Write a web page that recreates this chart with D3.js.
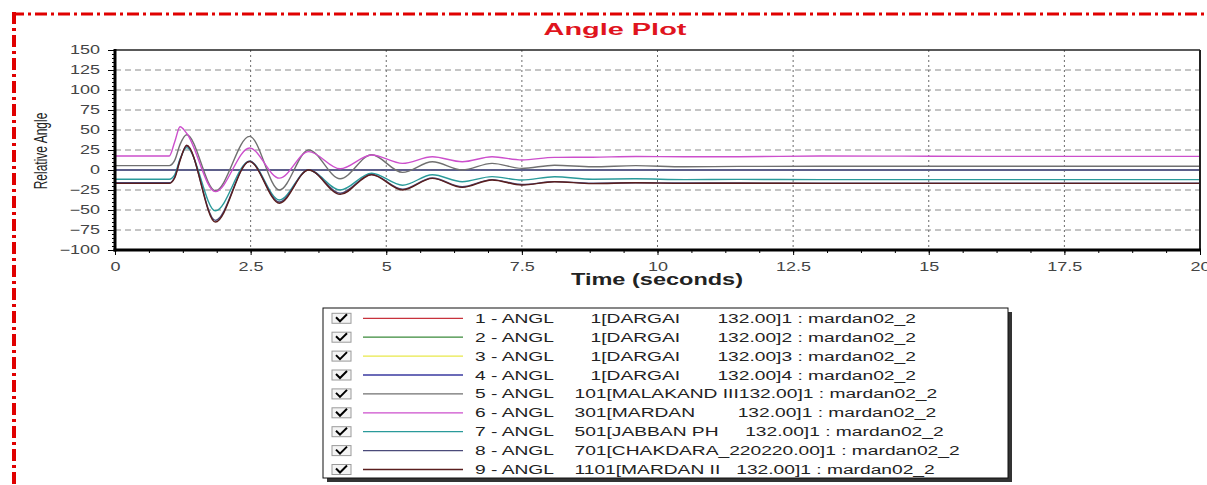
<!DOCTYPE html>
<html>
<head>
<meta charset="utf-8">
<script src="https://cdn.jsdelivr.net/npm/d3@7"></script>
<style>
    body { margin: 0; background: #fff; }
    .angle-plot-svg text { font-family: Arial, "Liberation Sans", sans-serif; }
    .axis path { display: none; }
    .axis line { stroke: #000; }
    .legend-text { white-space: pre; }
</style>
</head>
<body>
<div class="angle-plot"></div>
<script>
'use strict';

// sample times (seconds), shared by every channel
var time = [0, 1.0, 1.1, 1.2, 1.32, 1.85, 2.48, 3.03, 3.57, 4.15, 4.73, 5.3, 5.85, 6.4, 6.95, 7.5, 8.1, 8.8, 9.6, 10.5, 11.5, 13, 14.5, 16, 18, 20];

// relative angle (deg) per channel
var dargai1 = [0, 0, 0, 0, 0, 0, 0, 0, 0, 0, 0, 0, 0, 0, 0, 0, 0, 0, 0, 0, 0, 0, 0, 0, 0, 0];
var dargai2 = [0, 0, 0, 0, 0, 0, 0, 0, 0, 0, 0, 0, 0, 0, 0, 0, 0, 0, 0, 0, 0, 0, 0, 0, 0, 0];
var dargai3 = [0, 0, 0, 0, 0, 0, 0, 0, 0, 0, 0, 0, 0, 0, 0, 0, 0, 0, 0, 0, 0, 0, 0, 0, 0, 0];
var dargai4 = [0, 0, 0, 0, 0, 0, 0, 0, 0, 0, 0, 0, 0, 0, 0, 0, 0, 0, 0, 0, 0, 0, 0, 0, 0, 0];
var malakand = [5.5, 5.5, 12, 32, 44, -26, 42, -25, 25, -11, 19, -3, 10.4, 0, 8.3, 2, 6, 4, 5.5, 4, 4.5, 4.6, 4.6, 4.6, 4.6, 4.6];
var mardan = [17.5, 17.5, 35, 54, 46, -27, 27.5, -10.2, 23, 1.5, 18.8, 8.3, 16.6, 10.4, 16.6, 12.5, 15.8, 16, 16.8, 16.6, 16.6, 17.5, 17.3, 17, 17, 17];
var jabban = [-11.5, -11.5, -6, 14, 28, -51, 11, -37.5, 0, -25, -4, -19, -6, -14.6, -8.3, -12.5, -8.5, -11.5, -11, -12, -11.7, -12, -12, -12, -12, -12];
var chakdara = [-16, -16, -9, 13, 30, -63, 11, -40, 0.5, -29, -5.5, -24, -10, -21, -12, -18.2, -14.5, -16.5, -16, -16.3, -16.3, -16.5, -16.5, -16.5, -16.5, -16.5];
var mardan2 = [-16.7, -16.7, -10, 12, 31, -65, 10.5, -41.5, 0, -30.5, -6, -25, -10.5, -21.7, -12.5, -18.8, -14.6, -17, -16, -16.7, -16.5, -16.7, -16.7, -16.7, -16.7, -16.7];

var legendLabels = [
    "1 - ANGL       1[DARGAI       132.00]1 : mardan02_2",
    "2 - ANGL       1[DARGAI       132.00]2 : mardan02_2",
    "3 - ANGL       1[DARGAI       132.00]3 : mardan02_2",
    "4 - ANGL       1[DARGAI       132.00]4 : mardan02_2",
    "5 - ANGL    101[MALAKAND III132.00]1 : mardan02_2",
    "6 - ANGL    301[MARDAN        132.00]1 : mardan02_2",
    "7 - ANGL    501[JABBAN PH     132.00]1 : mardan02_2",
    "8 - ANGL    701[CHAKDARA_220220.00]1 : mardan02_2",
    "9 - ANGL    1101[MARDAN II   132.00]1 : mardan02_2"
];

var xTicks = [0, 2.5, 5, 7.5, 10, 12.5, 15, 17.5, 20];
var yTicks = [-100, -75, -50, -25, 0, 25, 50, 75, 100, 125, 150];

var seriesColors = ["#c8323c", "#3a8a3a", "#e8e84a", "#3a3aa0", "#707070", "#cc4fcc", "#2a9a9a", "#4a4a7a", "#5a1e1e"];

class AnglePlot {
    constructor(containerElement) {
        this.width = 1207;
        this.height = 485;
        this.plot = {left: 115, top: 50, right: 1200, bottom: 250};
        this.sx = 1.5; // the picture is stretched horizontally

        this.x = d3.scaleLinear().domain([0, 20]).range([this.plot.left, this.plot.right]);
        this.y = d3.scaleLinear().domain([-100, 150]).range([this.plot.bottom, this.plot.top]);

        this.line = d3.line()
            .curve(d3.curveMonotoneX)
            .x(function(d) { return this.x(d.t); }.bind(this))
            .y(function(d) { return this.y(d.v); }.bind(this));

        this.svg = d3.select(containerElement)
            .append("svg")
            .attr("class", "angle-plot-svg")
            .attr("width", this.width)
            .attr("height", this.height);
    }

    stretchText(sel, x, y, sx) {
        return sel.attr("transform", "translate(" + x + "," + y + ") scale(" + sx + ",1)");
    }

    setup() {
        var p = this.plot, svg = this.svg, self = this;
        var channels = [dargai1, dargai2, dargai3, dargai4, malakand, mardan, jabban, chakdara, mardan2];

        // red dash-dot frame
        svg.append("line")
            .attr("x1", 12).attr("y1", 14).attr("x2", this.width).attr("y2", 14)
            .attr("stroke", "#e00000").attr("stroke-width", 3)
            .attr("stroke-dasharray", "12,4,3,4");
        svg.append("line")
            .attr("x1", 14).attr("y1", 12).attr("x2", 14).attr("y2", this.height)
            .attr("stroke", "#e00000").attr("stroke-width", 4)
            .attr("stroke-dasharray", "12,4,3,4");

        this.stretchText(svg.append("text"), 615, 35, 1.7)
            .attr("text-anchor", "middle")
            .attr("font-size", 17)
            .attr("font-weight", "bold")
            .attr("fill", "#e0141e")
            .text("Angle Plot");

        // grid
        svg.append("g").selectAll("line")
            .data(yTicks.filter(function(v) { return v > -100 && v < 150; }))
            .enter().append("line")
            .attr("x1", p.left).attr("x2", p.right)
            .attr("y1", function(d) { return self.y(d); })
            .attr("y2", function(d) { return self.y(d); })
            .attr("stroke", "#8a8a8a")
            .attr("stroke-dasharray", "6,4");

        svg.append("g").selectAll("line")
            .data(xTicks.filter(function(v) { return v > 0 && v < 20; }))
            .enter().append("line")
            .attr("x1", function(d) { return self.x(d); })
            .attr("x2", function(d) { return self.x(d); })
            .attr("y1", p.top).attr("y2", p.bottom)
            .attr("stroke", "#6a6a6a")
            .attr("stroke-dasharray", "2,3");

        // channels
        svg.append("clipPath").attr("id", "plot-clip")
            .append("rect")
            .attr("x", p.left).attr("y", p.top)
            .attr("width", p.right - p.left).attr("height", p.bottom - p.top);

        var lines = svg.append("g").attr("clip-path", "url(#plot-clip)");
        channels.forEach(function(vals, i) {
            var pts = time.map(function(t, k) { return {t: t, v: vals[k]}; });
            lines.append("path")
                .datum(pts)
                .attr("fill", "none")
                .attr("stroke", seriesColors[i])
                .attr("stroke-width", 1.4)
                .attr("d", self.line);
        });

        // axes
        var yAxis = svg.append("g")
            .attr("class", "axis axis--y")
            .attr("transform", "translate(" + p.left + ",0)")
            .call(d3.axisLeft(this.y).tickValues(yTicks).tickSize(7).tickPadding(8));
        yAxis.selectAll("text")
            .attr("font-size", 12)
            .attr("fill", "#444")
            .attr("x", -15 / this.sx)
            .attr("transform", "scale(" + this.sx + ",1)");

        svg.append("g")
            .attr("class", "axis")
            .attr("transform", "translate(" + p.left + ",0)")
            .call(d3.axisLeft(this.y).tickValues(d3.range(-100, 151, 5)).tickSize(3).tickFormat(""));

        var xAxis = svg.append("g")
            .attr("class", "axis axis--x")
            .attr("transform", "translate(0," + p.bottom + ")")
            .call(d3.axisBottom(this.x).tickValues(xTicks).tickSize(5).tickPadding(7)
                .tickFormat(function(d) { return String(d); }));
        xAxis.selectAll("text")
            .attr("font-size", 12)
            .attr("fill", "#444")
            .attr("transform", "scale(" + this.sx + ",1)")
            .attr("x", 0);

        svg.append("g")
            .attr("class", "axis")
            .attr("transform", "translate(0," + p.bottom + ")")
            .call(d3.axisBottom(this.x).tickValues(d3.range(0, 20.01, 0.625)).tickSize(3).tickFormat(""));

        // plot frame
        svg.append("line").attr("x1", p.left).attr("x2", p.right).attr("y1", p.top).attr("y2", p.top)
            .attr("stroke", "#222").attr("stroke-width", 1.5);
        svg.append("line").attr("x1", p.right).attr("x2", p.right).attr("y1", p.top).attr("y2", p.bottom)
            .attr("stroke", "#222").attr("stroke-width", 2);
        svg.append("line").attr("x1", p.left).attr("x2", p.left).attr("y1", p.top - 1).attr("y2", p.bottom + 1.5)
            .attr("stroke", "#000").attr("stroke-width", 3);
        svg.append("line").attr("x1", p.left - 1.5).attr("x2", p.right + 1).attr("y1", p.bottom).attr("y2", p.bottom)
            .attr("stroke", "#000").attr("stroke-width", 3);

        this.stretchText(svg.append("text"), 657, 285, 1.47)
            .attr("text-anchor", "middle")
            .attr("font-size", 16)
            .attr("font-weight", "bold")
            .attr("fill", "#222")
            .text("Time (seconds)");

        svg.append("text")
            .attr("transform", "translate(47,151) scale(" + this.sx + ",1) rotate(-90)")
            .attr("text-anchor", "middle")
            .attr("font-size", 12)
            .attr("fill", "#222")
            .text("Relative Angle");

        this._legend(legendLabels);
    }

    _legend(labels) {
        var box = {x: 323, y: 308, w: 685, h: 170};
        var rowTop = 318.3, rowStep = 18.9;
        var g = this.svg.append("g").attr("class", "legend");

        g.append("rect")
            .attr("x", box.x + 4).attr("y", box.y + 4)
            .attr("width", box.w).attr("height", box.h)
            .attr("fill", "#333");
        g.append("rect")
            .attr("x", box.x).attr("y", box.y)
            .attr("width", box.w).attr("height", box.h)
            .attr("fill", "#fff").attr("stroke", "#111").attr("stroke-width", 1);

        var rows = g.selectAll(".legend-row")
            .data(labels)
            .enter().append("g")
            .attr("class", "legend-row")
            .attr("transform", function(d, i) { return "translate(0," + (rowTop + i * rowStep) + ")"; });

        rows.append("rect")
            .attr("x", 332).attr("y", -5)
            .attr("width", 19).attr("height", 10)
            .attr("fill", "#f4f4f4").attr("stroke", "#9a9a9a");
        rows.append("path")
            .attr("d", "M336,-1L340,3L347,-4")
            .attr("fill", "none").attr("stroke", "#000").attr("stroke-width", 2);

        rows.append("line")
            .attr("x1", 363).attr("x2", 463)
            .attr("y1", 0).attr("y2", 0)
            .attr("stroke", function(d, i) { return seriesColors[i]; })
            .attr("stroke-width", 1.3);

        rows.append("text")
            .attr("class", "legend-text")
            .attr("xml:space", "preserve")
            .attr("transform", "translate(475,4.5) scale(1.6,1)")
            .attr("font-size", 12)
            .attr("fill", "#222")
            .text(function(d) { return d; });
    }
}

var chart = new AnglePlot(".angle-plot");
chart.setup();
</script>
</body>
</html>
